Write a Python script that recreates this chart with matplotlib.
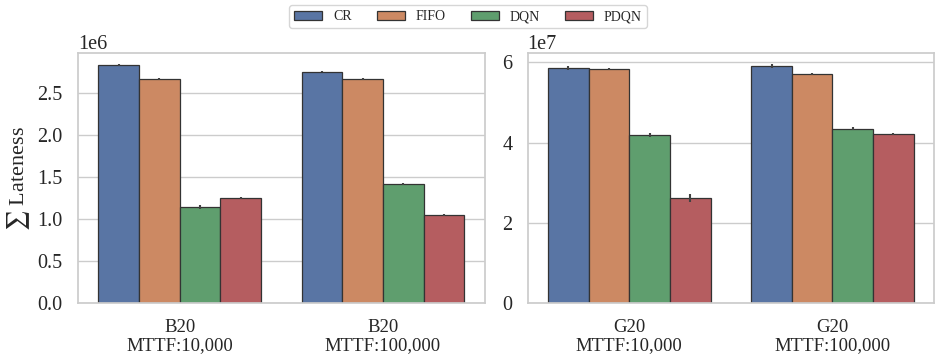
import numpy as np
import matplotlib
matplotlib.use("Agg")
import matplotlib.pyplot as plt
import seaborn as sns

methods = ["CR", "FIFO", "DQN", "PDQN"]
left_groups = ["B20\nMTTF:10,000", "B20\nMTTF:100,000"]
right_groups = ["G20\nMTTF:10,000", "G20\nMTTF:100,000"]

# values (left in 1e6, right in 1e7)
left_vals = {
    "CR":   [2.835, 2.755],
    "FIFO": [2.670, 2.665],
    "DQN":  [1.145, 1.415],
    "PDQN": [1.250, 1.055],
}
left_err = {
    "CR":   [0.012, 0.010],
    "FIFO": [0.012, 0.010],
    "DQN":  [0.020, 0.012],
    "PDQN": [0.012, 0.012],
}
right_vals = {
    "CR":   [5.86, 5.91],
    "FIFO": [5.83, 5.71],
    "DQN":  [4.19, 4.35],
    "PDQN": [2.63, 4.22],
}
right_err = {
    "CR":   [0.04, 0.04],
    "FIFO": [0.03, 0.03],
    "DQN":  [0.04, 0.04],
    "PDQN": [0.10, 0.03],
}

sns.set_theme(style="whitegrid")
plt.rcParams['font.family'] = ['Liberation Serif', 'DejaVu Serif']
plt.rcParams['mathtext.fontset'] = 'stix'
colors = [sns.desaturate(c, 0.75) for c in sns.color_palette("deep", 4)]

fig, axes = plt.subplots(1, 2, figsize=(9.36, 3.56), dpi=100)
fig.subplots_adjust(left=0.0833, right=0.998, bottom=0.148, top=0.851, wspace=0.106)

FS = 14.5

def draw(ax, groups, vals, errs, scale):
    x = np.arange(len(groups))
    w = 0.2
    for i, m in enumerate(methods):
        pos = x - 0.3 + i * w
        v = np.array(vals[m]) * scale
        e = np.array(errs[m]) * scale
        ax.bar(pos, v, width=w, color=colors[i], edgecolor="0.2", linewidth=0.9,
               label=m, zorder=2)
        ax.errorbar(pos, v, yerr=e, fmt="none", ecolor="0.26", elinewidth=1.5,
                    capsize=0, zorder=3)
    ax.set_xticks(x)
    ax.set_xticklabels(groups, fontsize=13.5, linespacing=1.12)
    ax.set_xlim(-0.5, len(groups) - 0.5)
    ax.tick_params(axis='y', labelsize=FS, pad=5)
    ax.tick_params(axis='x', pad=5)
    ax.yaxis.get_offset_text().set_fontsize(FS)
    for s in ax.spines.values():
        s.set_color("0.8")
        s.set_linewidth(1.25)
    ax.grid(axis='x', visible=False)
    ax.set_axisbelow(True)

draw(axes[0], left_groups, left_vals, left_err, 1e6)
draw(axes[1], right_groups, right_vals, right_err, 1e7)

axes[0].set_ylim(0, 2.976e6)
axes[0].set_yticks(np.arange(0, 2.6e6, 0.5e6))
axes[1].set_ylim(0, 6.23e7)
axes[1].set_yticks([0, 2e7, 4e7, 6e7])

axes[0].set_ylabel("$\\sum$ Lateness", fontsize=16, labelpad=4)

handles, labels = axes[0].get_legend_handles_labels()
fig.legend(handles, labels, loc="upper center", ncol=4, bbox_to_anchor=(0.5, 1.005),
           fontsize=10, frameon=True, handlelength=2.0, columnspacing=1.8,
           borderpad=0.35, handleheight=0.6)

fig.savefig("out.png", dpi=100)
